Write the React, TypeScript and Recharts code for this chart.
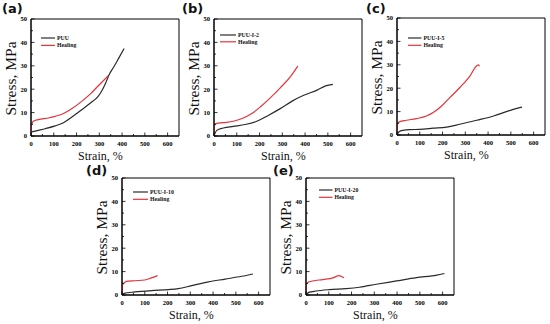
import React from "react";
import { LineChart, Line, XAxis, YAxis, ReferenceArea, Legend } from "recharts";

// ---- data (strain %, stress MPa) ----
const puuA = [
  { strain: 0, stress: 0 }, { strain: 3, stress: 1.7 }, { strain: 18, stress: 2.1 }, { strain: 62, stress: 3.1 },
  { strain: 106, stress: 4.3 }, { strain: 143, stress: 5.7 }, { strain: 180, stress: 8.1 }, { strain: 224, stress: 11.3 },
  { strain: 261, stress: 14.1 }, { strain: 293, stress: 16.7 }, { strain: 310, stress: 19.1 }, { strain: 327, stress: 22.4 },
  { strain: 342, stress: 26 }, { strain: 364, stress: 29.6 }, { strain: 386, stress: 33.4 }, { strain: 409, stress: 37.4 },
];
const healA = [
  { strain: 0, stress: 0 }, { strain: 2, stress: 4.6 }, { strain: 10, stress: 6.3 }, { strain: 32, stress: 7 },
  { strain: 77, stress: 7.7 }, { strain: 106, stress: 8.4 }, { strain: 143, stress: 9.6 }, { strain: 180, stress: 11.7 },
  { strain: 224, stress: 14.9 }, { strain: 261, stress: 18 }, { strain: 298, stress: 21.7 }, { strain: 339, stress: 25.7 },
];
const puuB = [
  { strain: 0, stress: 0 }, { strain: 12, stress: 2.4 }, { strain: 41, stress: 3.4 }, { strain: 85, stress: 4.1 },
  { strain: 137, stress: 4.9 }, { strain: 188, stress: 6.3 }, { strain: 240, stress: 8.9 }, { strain: 291, stress: 11.7 },
  { strain: 343, stress: 14.9 }, { strain: 394, stress: 17.4 }, { strain: 453, stress: 19.6 }, { strain: 490, stress: 21.4 },
  { strain: 522, stress: 22.1 },
];
const healB = [
  { strain: 0, stress: 0 }, { strain: 2, stress: 4.6 }, { strain: 9, stress: 5.3 }, { strain: 41, stress: 5.7 },
  { strain: 85, stress: 6.3 }, { strain: 129, stress: 7.7 }, { strain: 166, stress: 9.6 }, { strain: 203, stress: 12.4 },
  { strain: 247, stress: 16.3 }, { strain: 291, stress: 20.6 }, { strain: 335, stress: 25.3 }, { strain: 368, stress: 29.9 },
];
const puuC = [
  { strain: 0, stress: 0 }, { strain: 9, stress: 1.4 }, { strain: 26, stress: 2 }, { strain: 56, stress: 2.3 },
  { strain: 100, stress: 2.4 }, { strain: 159, stress: 2.9 }, { strain: 218, stress: 3.4 }, { strain: 276, stress: 4.6 },
  { strain: 350, stress: 6.3 }, { strain: 424, stress: 8.1 }, { strain: 490, stress: 10.3 }, { strain: 549, stress: 11.9 },
];
const healC = [
  { strain: 0, stress: 0 }, { strain: 2, stress: 4.6 }, { strain: 12, stress: 5.7 }, { strain: 41, stress: 6.3 },
  { strain: 85, stress: 7 }, { strain: 129, stress: 8.1 }, { strain: 159, stress: 9.6 }, { strain: 196, stress: 12.4 },
  { strain: 232, stress: 16 }, { strain: 276, stress: 20.3 }, { strain: 321, stress: 25.3 }, { strain: 350, stress: 29.6 },
  { strain: 358, stress: 30 }, { strain: 362, stress: 29.4 },
];
const puuD = [
  { strain: 0, stress: 0 }, { strain: 9, stress: 0.7 }, { strain: 56, stress: 1.3 }, { strain: 129, stress: 1.9 },
  { strain: 203, stress: 2.3 }, { strain: 247, stress: 2.7 }, { strain: 306, stress: 4 }, { strain: 379, stress: 5.6 },
  { strain: 453, stress: 6.8 }, { strain: 526, stress: 8 }, { strain: 575, stress: 9 },
];
const healD = [
  { strain: 0, stress: 0 }, { strain: 2, stress: 4.4 }, { strain: 9, stress: 5.1 }, { strain: 19, stress: 5.8 },
  { strain: 56, stress: 6.1 }, { strain: 100, stress: 6.4 }, { strain: 129, stress: 7.3 }, { strain: 156, stress: 8.3 },
];
const puuE = [
  { strain: 0, stress: 0 }, { strain: 12, stress: 1.1 }, { strain: 44, stress: 1.7 }, { strain: 103, stress: 2.3 },
  { strain: 176, stress: 2.7 }, { strain: 235, stress: 3.3 }, { strain: 309, stress: 4.6 }, { strain: 397, stress: 6 },
  { strain: 485, stress: 7.4 }, { strain: 574, stress: 8.5 }, { strain: 608, stress: 9.2 },
];
const healE = [
  { strain: 0, stress: 0 }, { strain: 2, stress: 4.6 }, { strain: 9, stress: 5.4 }, { strain: 29, stress: 6 },
  { strain: 74, stress: 6.6 }, { strain: 118, stress: 7.3 }, { strain: 145, stress: 8.3 }, { strain: 158, stress: 7.8 },
  { strain: 167, stress: 7.4 },
];

const panelLetters = ["(a)", "(b)", "(c)", "(d)", "(e)"];
const sampleNames = ["PUU", "PUU-I-2", "PUU-I-5", "PUU-I-10", "PUU-I-20"];
const healingName = "Healing";
const xTicks = [0, 50, 100, 150, 200, 250, 300, 350, 400, 450, 500, 550, 600];
const yTicks = [0, 5, 10, 15, 20, 25, 30, 35, 40, 45, 50];
const xTitle = "Strain, %";
const yTitle = "Stress, MPa";

// ---- layout ----
const SERIF = "'Liberation Serif', 'Times New Roman', serif";
const BLACK = "#2a2a2a";
const RED = "#e5323a";
const CW = 180;
const CH = 155;
const PL = 30; // plot left within chart
const PT = 10; // plot top within chart

const layout = [
  { x0: 30.7, y0: 19, lx: 10, ly: 19.3, len: 14, gap: 7.4, lab: [2, 13] },
  { x0: 214, y0: 18.5, lx: 6, ly: 16.5, len: 16, gap: 6.8, lab: [182, 13] },
  { x0: 397, y0: 18, lx: 11, ly: 19.7, len: 13.5, gap: 7.3, lab: [366, 13] },
  { x0: 122, y0: 178.3, lx: 11, ly: 13.4, len: 15, gap: 7.3, lab: [86, 174.5] },
  { x0: 305.5, y0: 178, lx: 13, ly: 12, len: 13.5, gap: 7.3, lab: [273, 174.5] },
];

const series = [
  [puuA, healA],
  [puuB, healB],
  [puuC, healC],
  [puuD, healD],
  [puuE, healE],
];

const XTick = (props: any) => {
  const { x, y, payload } = props;
  const v = payload.value;
  const major = v % 100 === 0;
  return (
    <g>
      <line x1={x} y1={y} x2={x} y2={y - (major ? 3.5 : 2)} stroke="#000" strokeWidth={0.8} />
      {major && (
        <text x={x} y={y + 10} textAnchor="middle" fontSize={6.5} fontWeight="bold" style={{ fontFamily: SERIF }} fill="#000">
          {v}
        </text>
      )}
    </g>
  );
};

const YTick = (props: any) => {
  const { x, y, payload } = props;
  const v = payload.value;
  const major = v % 10 === 0;
  return (
    <g>
      <line x1={x} y1={y} x2={x + (major ? 3.5 : 2)} y2={y} stroke="#000" strokeWidth={0.8} />
      {major && (
        <text x={x - 4} y={y + 2.3} textAnchor="end" fontSize={6.5} fontWeight="bold" style={{ fontFamily: SERIF }} fill="#000">
          {v}
        </text>
      )}
    </g>
  );
};

const LegendBox = ({ name, len, gap }: { name: string; len: number; gap: number }) => (
  <svg width={70} height={18} style={{ display: "block", overflow: "visible" }}>
    <line x1={0} y1={4} x2={len} y2={4} stroke={BLACK} strokeWidth={1.2} />
    <text x={len + 2} y={6} fontSize={5.8} fontWeight="bold" style={{ fontFamily: SERIF }} fill="#111">
      {name}
    </text>
    <line x1={0} y1={4 + gap} x2={len} y2={4 + gap} stroke={RED} strokeWidth={1.2} />
    <text x={len + 2} y={6 + gap} fontSize={5.8} fontWeight="bold" style={{ fontFamily: SERIF }} fill="#111">
      {healingName}
    </text>
  </svg>
);

const Panel = ({ i }: { i: number }) => {
  const L = layout[i];
  const [puu, heal] = series[i];
  return (
    <div style={{ position: "absolute", left: L.x0 - PL, top: L.y0 - PT, width: CW, height: CH }}>
      <LineChart width={CW} height={CH} margin={{ top: PT, right: 2, bottom: 0, left: 0 }}>
        <XAxis
          type="number"
          dataKey="strain"
          domain={[0, 650]}
          ticks={xTicks}
          interval={0}
          allowDataOverflow
          height={28}
          tickSize={0}
          tickMargin={0}
          tickLine={false}
          axisLine={{ stroke: "#000", strokeWidth: 1 }}
          tick={<XTick />}
          label={{
            content: (p: any) => {
              const vb = p.viewBox || {};
              return (
                <text
                  x={vb.x + (vb.width * 305) / 650}
                  y={vb.y + 23.5}
                  textAnchor="middle"
                  fontSize={12}
                  style={{ fontFamily: SERIF }}
                  fill="#111"
                >
                  {xTitle}
                </text>
              );
            },
          }}
        />
        <YAxis
          type="number"
          domain={[0, 50]}
          ticks={yTicks}
          interval={0}
          allowDataOverflow
          width={PL}
          tickSize={0}
          tickMargin={0}
          tickLine={false}
          axisLine={{ stroke: "#000", strokeWidth: 1 }}
          tick={<YTick />}
          label={{
            content: (p: any) => {
              const vb = p.viewBox || {};
              const tx = vb.x + vb.width - 15;
              const ty = vb.y + vb.height / 2 + 1;
              return (
                <text
                  x={tx}
                  y={ty}
                  transform={`rotate(-90, ${tx}, ${ty})`}
                  textAnchor="middle"
                  fontSize={15.5}
                  style={{ fontFamily: SERIF }}
                  fill="#111"
                >
                  {yTitle}
                </text>
              );
            },
          }}
        />
        <ReferenceArea x1={0} x2={650} y1={0} y2={50} fill="none" stroke="#000" strokeWidth={1} ifOverflow="visible" />
        <Line
          data={puu}
          dataKey="stress"
          name={sampleNames[i]}
          type="monotone"
          stroke={BLACK}
          strokeWidth={1.2}
          dot={false}
          isAnimationActive={false}
        />
        <Line
          data={heal}
          dataKey="stress"
          name={healingName}
          type="monotone"
          stroke={RED}
          strokeWidth={1.2}
          dot={false}
          isAnimationActive={false}
        />
        <Legend
          layout="vertical"
          align="center"
          verticalAlign="middle"
          wrapperStyle={{
            left: PL + L.lx,
            top: PT + L.ly - 4,
            right: "auto",
            bottom: "auto",
            width: "auto",
            height: "auto",
          }}
          content={() => <LegendBox name={sampleNames[i]} len={L.len} gap={L.gap} />}
        />
      </LineChart>
    </div>
  );
};

export default function App() {
  return (
    <div
      style={{
        position: "absolute",
        left: 0,
        top: 0,
        width: 550,
        height: 324,
        overflow: "hidden",
        background: "#fff",
      }}
    >
      {[0, 1, 2, 3, 4].map((i) => (
        <Panel key={i} i={i} />
      ))}
      <svg width={550} height={324} style={{ position: "absolute", left: 0, top: 0, pointerEvents: "none" }}>
        {layout.map((L, i) => (
          <text
            key={i}
            x={L.lab[0]}
            y={L.lab[1]}
            fontSize={13}
            fontWeight="bold"
            style={{ fontFamily: "'DejaVu Sans', sans-serif" }}
            fill="#111"
          >
            {panelLetters[i]}
          </text>
        ))}
      </svg>
    </div>
  );
}
